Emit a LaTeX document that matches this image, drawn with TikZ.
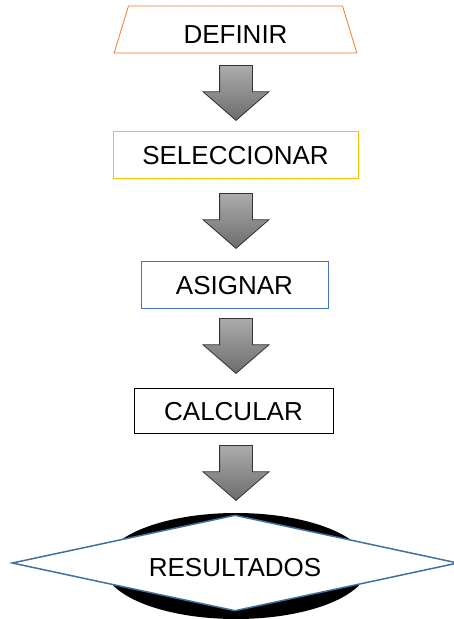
\documentclass[tikz,border=0pt]{standalone}
\usepackage{fontspec}
\setmainfont{Liberation Sans}
\usetikzlibrary{shapes.geometric,shapes.arrows}
\definecolor{boxorange}{RGB}{237,125,49}
\definecolor{boxyellow}{RGB}{255,192,0}
\definecolor{boxblue}{RGB}{68,114,196}
\definecolor{diamblue}{RGB}{65,113,156}
\tikzset{
  stepbox/.style={draw, line width=0.8pt, inner sep=0pt, minimum height=47pt, font=\fontsize{26}{30}\selectfont},
  bigarrow/.style={single arrow, shape border rotate=270, draw=black!80, line width=0.8pt,
    top color=gray!65, bottom color=gray!85!black, anchor=tail,
    inner sep=16pt, minimum height=55pt, minimum width=65pt, single arrow head extend=16.5pt, single arrow tip angle=98}
}

\begin{document}
\begin{tikzpicture}[x=1pt, y=-1pt]
\useasboundingbox (0,0) rectangle (454,619);

% Steps
\node[stepbox, trapezium, trapezium left angle=76, trapezium right angle=76, trapezium stretches=true,
  draw=boxorange, minimum width=243pt, text height=28pt, text depth=0pt] (def) at (235.5,29.5) {DEFINIR};
\node[stepbox, draw=boxyellow, minimum width=245pt, text height=21pt] (sel) at (235.5,154.5) {SELECCIONAR};
\node[stepbox, draw=boxblue, minimum width=187pt, text height=21pt] (asig) at (234.5,284.5) {ASIGNAR};
\node[stepbox, draw=black, minimum width=199pt, minimum height=45pt, text height=21pt] (calc) at (233.5,410.5) {CALCULAR};

% Result
\node[ellipse, fill=black, minimum width=264pt, minimum height=106pt] (oval) at (236,566) {};
\node[stepbox, diamond, aspect=4.65, draw=diamblue, line width=1.5pt, fill=white,
  minimum width=446pt, minimum height=96pt, text height=26pt, text depth=0pt] (res) at (235,563) {RESULTADOS};

% Arrows between steps
\node[bigarrow] (arr1) at (236,65) {};
\node[bigarrow] (arr2) at (236,193) {};
\node[bigarrow] (arr3) at (236,318) {};
\node[bigarrow] (arr4) at (236,445) {};
\end{tikzpicture}
\end{document}
